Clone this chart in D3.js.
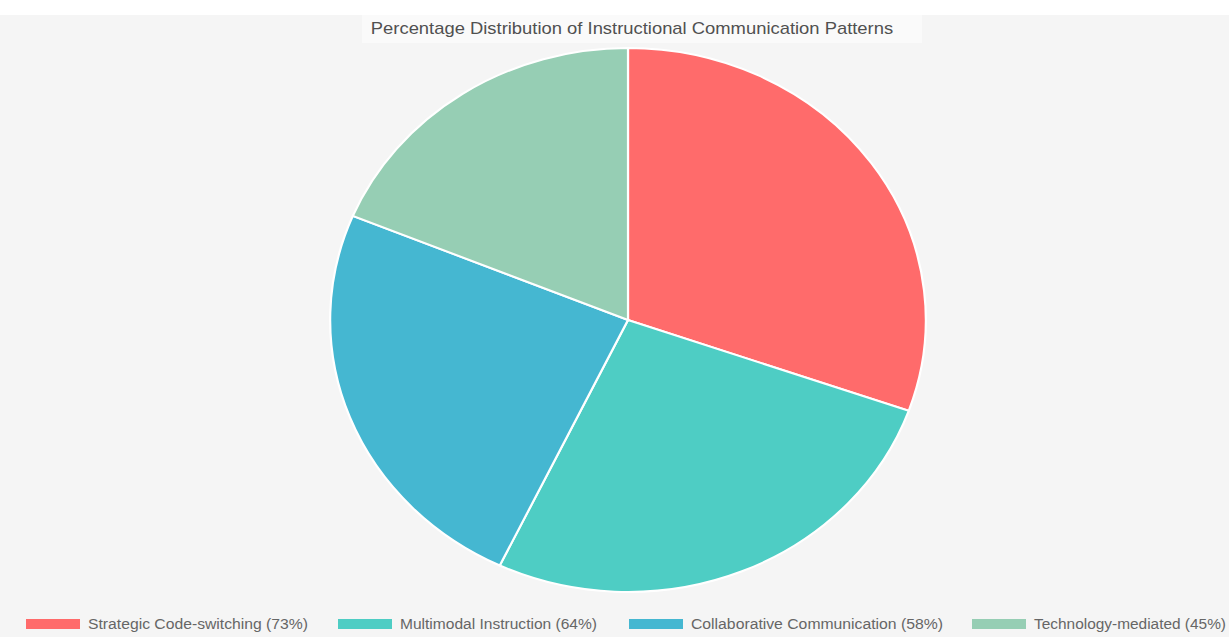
<!DOCTYPE html>
<html><head><meta charset="utf-8">
<script src="https://cdn.jsdelivr.net/npm/d3@7"></script>
<style>html,body{margin:0;padding:0;background:#f5f5f5;}svg{display:block;font-family:"Liberation Sans",Arial,sans-serif;}</style>
</head><body>
<svg id="c" width="1229" height="637"></svg>
<script>
const categories = ["Strategic Code-switching", "Multimodal Instruction", "Collaborative Communication", "Technology-mediated"];
const values = [73, 64, 58, 45];
const colors = ["#FF6B6B", "#4ECDC4", "#45B7D1", "#96CEB4"];
const title = "Percentage Distribution of Instructional Communication Patterns";

const W = 1229, H = 637, sx = 1.095;
const svg = d3.select("#c");
svg.append("rect").attr("width", W).attr("height", H).attr("fill", "#f5f5f5");
svg.append("rect").attr("width", W).attr("height", 15).attr("fill", "#ffffff");
svg.append("rect").attr("x", 362).attr("y", 15).attr("width", 560).attr("height", 28).attr("fill", "#fafafa");
const g = svg.append("g").attr("transform", `scale(${sx},1)`);

g.append("text").attr("x", 632 / sx).attr("y", 34).attr("text-anchor", "middle")
  .attr("font-size", 16.8).attr("fill", "#505050").text(title);

const data = categories.map((c, i) => ({ name: c, value: values[i], color: colors[i] }));
const pie = d3.pie().value(d => d.value).sort(null);
const r = 272;
const arc = d3.arc().innerRadius(0).outerRadius(r);
const pg = g.append("g").attr("transform", `translate(${628 / sx},320)`);
pg.selectAll("path").data(pie(data)).join("path")
  .attr("d", arc).attr("fill", d => d.data.color)
  .attr("stroke", "#fff").attr("stroke-width", 2);

const legX = [26, 338, 629, 972];
const legW = [220, 197, 252, 192];
const lg = g.append("g");
data.forEach((d, i) => {
  const x = legX[i] / sx;
  lg.append("rect").attr("x", x).attr("y", 619).attr("width", 54 / sx).attr("height", 10).attr("fill", d.color);
  lg.append("text").attr("x", x + 62 / sx).attr("y", 629.5).attr("font-size", 14).attr("fill", "#666")
    .attr("textLength", legW[i] / sx).attr("lengthAdjust", "spacingAndGlyphs")
    .text(`${d.name} (${d.value}%)`);
});
</script>
</body></html>
